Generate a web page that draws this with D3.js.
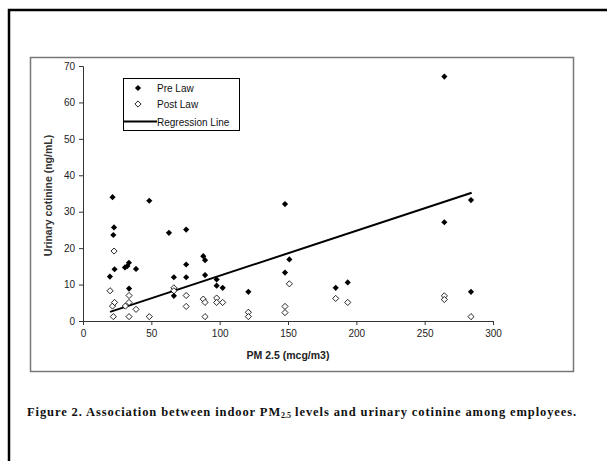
<!doctype html>
<html>
<head>
<meta charset="UTF-8" />
<title>PM2.5 and urinary cotinine</title>
<script src="https://d3js.org/d3.v7.min.js"></script>
<style>
  body { margin: 0; background: #fff; }
  svg { display: block; }
</style>
</head>
<body>
<div id="container"></div>
<script>

// Pre law measurements: PM 2.5 (mcg/m3) and urinary cotinine (ng/mL)
const preX = [21.6, 22.7, 22.2, 23.1, 19.7, 30.7, 32.5, 33.6, 33.7, 38.8, 48.5, 62.9, 66.5, 66.5,
              75.5, 75.5, 75.5, 88.0, 89.3, 89.3, 97.8, 97.8, 102.2, 121.0, 147.8, 147.8, 151.0,
              184.9, 193.7, 264.4, 264.4, 283.9, 283.9];
const preY = [34.0, 25.7, 23.6, 14.2, 12.2, 14.7, 15.1, 16.0, 8.9, 14.3, 33.0, 24.2, 12.0, 6.9,
              25.1, 15.5, 12.0, 17.8, 16.7, 12.6, 11.4, 9.7, 9.1, 8.0, 32.1, 13.3, 16.9,
              9.1, 10.6, 67.1, 27.1, 33.2, 8.0];

// Post law measurements
const postX = [19.8, 22.7, 21.6, 23.1, 22.2, 31.0, 33.7, 33.7, 33.7, 38.8, 48.5, 66.5, 66.5,
               75.5, 75.5, 88.0, 89.3, 89.3, 97.8, 97.8, 102.2, 121.0, 121.0, 147.8, 147.8, 151.0,
               184.9, 193.7, 264.4, 264.4, 283.9];
const postY = [8.3, 19.2, 4.1, 5.1, 1.2, 4.1, 7.0, 5.1, 1.2, 3.2, 1.2, 9.1, 8.3,
               7.0, 4.0, 6.0, 5.1, 1.2, 6.3, 5.1, 5.1, 2.4, 1.2, 4.0, 2.3, 10.2,
               6.2, 5.1, 6.9, 5.9, 1.2];

// Regression line end points
const regX = [19.8, 284.4];
const regY = [2.5, 35.2];

const xTicks = [0, 50, 100, 150, 200, 250, 300];
const yTicks = [0, 10, 20, 30, 40, 50, 60, 70];
const legendLabels = ["Pre Law", "Post Law", "Regression Line"];

const width = 607;
const height = 461;
const marginLeft = 83;
const marginRight = 114;
const marginTop = 66;
const marginBottom = 140;

const x = d3.scaleLinear()
    .domain([0, 300])
    .range([marginLeft, width - marginRight]);

const y = d3.scaleLinear()
    .domain([0, 70])
    .range([height - marginBottom, marginTop]);

const svg = d3.select("#container").append("svg")
    .attr("width", width)
    .attr("height", height)
    .style("font-family", "'Liberation Sans', Arial, sans-serif");

// page frame (top and left edges of a scanned box)
svg.append("path")
    .attr("d", "M9,461V10H607")
    .attr("fill", "none")
    .attr("stroke", "#000")
    .attr("stroke-width", 2.5);

// chart area border
svg.append("rect")
    .attr("x", 30.5).attr("y", 57.5)
    .attr("width", 543).attr("height", 314)
    .attr("fill", "none")
    .attr("stroke", "#777")
    .attr("stroke-width", 1.5);

// axes
const xAxis = svg.append("g")
    .attr("transform", `translate(0,${y(0)})`)
    .call(d3.axisBottom(x).tickValues(xTicks).tickSize(4).tickPadding(5));

const yAxis = svg.append("g")
    .attr("transform", `translate(${x(0)},0)`)
    .call(d3.axisLeft(y).tickValues(yTicks).tickSize(4).tickPadding(4));

[xAxis, yAxis].forEach(g => {
  g.select(".domain").attr("stroke", "#333");
  g.selectAll(".tick line").attr("stroke", "#333");
  g.selectAll("text")
    .attr("fill", "#222")
    .style("font-size", "10px")
    .style("font-family", "'Liberation Sans', Arial, sans-serif");
});

// axis titles
svg.append("text")
    .attr("x", (x(0) + x(300)) / 2)
    .attr("y", 359)
    .attr("text-anchor", "middle")
    .style("font-size", "10.5px")
    .style("font-weight", "bold")
    .attr("fill", "#222")
    .text("PM 2.5 (mcg/m3)");

svg.append("text")
    .attr("transform", `translate(52,${(y(0) + y(70)) / 2 + 2}) rotate(-90)`)
    .attr("text-anchor", "middle")
    .style("font-size", "10.5px")
    .style("font-weight", "bold")
    .attr("fill", "#333")
    .text("Urinary cotinine (ng/mL)");

// square diamonds (a square turned 45 degrees)
const diamond = d3.symbol().type(d3.symbolSquare).size(19);

// regression line
svg.append("line")
    .attr("x1", x(regX[0])).attr("y1", y(regY[0]))
    .attr("x2", x(regX[1])).attr("y2", y(regY[1]))
    .attr("stroke", "#000")
    .attr("stroke-width", 2);

// post law points
svg.append("g")
  .selectAll("path")
  .data(d3.range(postX.length))
  .join("path")
    .attr("d", diamond)
    .attr("transform", i => `translate(${x(postX[i])},${y(postY[i])}) rotate(45)`)
    .attr("fill", "#fff")
    .attr("stroke", "#000")
    .attr("stroke-width", 0.8);

// pre law points
svg.append("g")
  .selectAll("path")
  .data(d3.range(preX.length))
  .join("path")
    .attr("d", diamond)
    .attr("transform", i => `translate(${x(preX[i])},${y(preY[i])}) rotate(45)`)
    .attr("fill", "#000");

// legend
const legend = svg.append("g").attr("transform", "translate(123,78)");
legend.append("rect")
    .attr("x", 0.5).attr("y", 0.5)
    .attr("width", 116).attr("height", 52)
    .attr("fill", "#fff")
    .attr("stroke", "#000");

legend.append("path").attr("d", diamond)
    .attr("transform", "translate(15,10) rotate(45)")
    .attr("fill", "#000");
legend.append("path").attr("d", diamond)
    .attr("transform", "translate(15,26) rotate(45)")
    .attr("fill", "#fff").attr("stroke", "#000").attr("stroke-width", 0.8);
legend.append("line")
    .attr("x1", 1).attr("x2", 34)
    .attr("y1", 43.5).attr("y2", 43.5)
    .attr("stroke", "#000").attr("stroke-width", 2);

legend.selectAll("text.lab")
  .data(legendLabels)
  .join("text")
    .attr("class", "lab")
    .attr("x", 34)
    .attr("y", (d, i) => [10, 26, 44][i])
    .attr("dy", "0.35em")
    .style("font-size", "10px")
    .attr("fill", "#111")
    .text(d => d);

// caption
const cap = svg.append("text")
    .attr("x", 27)
    .attr("y", 416)
    .style("font-family", "'Liberation Serif', 'Times New Roman', serif")
    .style("font-size", "12.5px")
    .style("font-weight", "bold")
    .style("letter-spacing", "0.9px")
    .attr("fill", "#111");
cap.append("tspan").text("Figure 2. Association between indoor PM");
cap.append("tspan").attr("dy", 2).style("font-size", "8px").style("letter-spacing", "0px").text("2.5");
cap.append("tspan").attr("dy", -2).text(" levels and urinary cotinine among employees.");

</script>
</body>
</html>
